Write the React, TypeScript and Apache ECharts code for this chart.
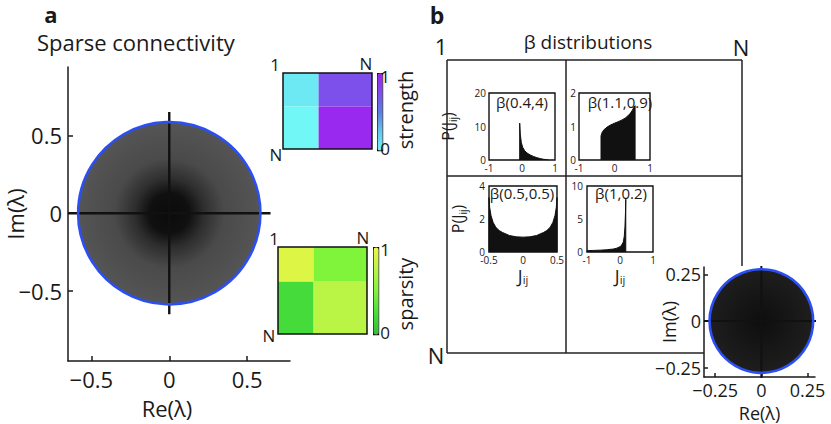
import React, { useEffect, useRef } from 'react';
import * as echarts from 'echarts';

const FONT = "'Open Sans', 'Noto Sans', sans-serif";
const INK = '#1a1a1a';

// ---------- panel a: eigenvalue spectrum (sparse connectivity) ----------
const eigDiskA = [[0, 0, 0.585]]; // centre re, centre im, radius
const crossA = [-0.65, 0.65];
const ticksA = [-0.5, 0, 0.5];

// block matrices [col0, col1, row0, row1, value]
const strengthBlocks = [
  [0, 0.4, 0, 0.44, 0.07],
  [0.4, 1, 0, 0.44, 0.74],
  [0, 0.4, 0.44, 1, 0.0],
  [0.4, 1, 0.44, 1, 0.95],
];
const sparsityBlocks = [
  [0, 0.4, 0, 0.4, 0.92],
  [0.4, 1, 0, 0.4, 0.5],
  [0, 0.4, 0.4, 1, 0.22],
  [0.4, 1, 0.4, 1, 0.76],
];
const strengthColors = ['#70f7f6', '#66c4ee', '#5c7de6', '#7e4eeb', '#a020f0'];
const sparsityColors = ['#35bd35', '#47df3b', '#80f43b', '#b8f546', '#eef543'];

// ---------- panel b: beta distributions ----------
const beta1X = [-0.07, -0.07, -0.05, -0.02, 0.02, 0.08, 0.15, 0.25, 0.35, 0.45, 0.55, 0.65, 0.75, 0.8, 0.8];
const beta1Y = [0, 11, 7.5, 5.2, 3.8, 2.8, 2.1, 1.5, 1.05, 0.7, 0.42, 0.22, 0.08, 0.03, 0];
const beta2X = [-0.38, -0.38, -0.35, -0.3, -0.2, -0.1, 0, 0.1, 0.2, 0.3, 0.38, 0.45, 0.5, 0.55, 0.58, 0.58];
const beta2Y = [0, 0.72, 0.82, 0.9, 0.99, 1.05, 1.1, 1.14, 1.19, 1.25, 1.32, 1.4, 1.48, 1.58, 1.62, 0];
const beta3X = [-0.5, -0.5, -0.49, -0.47, -0.44, -0.4, -0.35, -0.3, -0.2, -0.1, 0, 0.1, 0.2, 0.3, 0.35, 0.4, 0.44, 0.47, 0.49, 0.5, 0.5];
const beta3Y = [0, 3.3, 2.7, 2.2, 1.8, 1.5, 1.3, 1.18, 1.0, 0.92, 0.9, 0.92, 1.0, 1.18, 1.3, 1.5, 1.8, 2.2, 2.7, 3.3, 0];
const beta4X = [-1, -1, -0.8, -0.6, -0.4, -0.2, -0.1, 0, 0.05, 0.1, 0.13, 0.15, 0.165, 0.175, 0.175];
const beta4Y = [0, 0.2, 0.24, 0.28, 0.34, 0.45, 0.58, 0.8, 1.05, 1.5, 2.4, 3.8, 5.8, 8, 0];

// ---------- panel b: eigenvalue spectrum ----------
const eigDiskB = [[0, 0, 0.28]];
const crossB = [-0.31, 0.3];
const ticksB = [-0.25, 0, 0.25];

const zip = (xs: number[], ys: number[]) => xs.map((x, i) => [x, ys[i]]);
const minusFmt = (v: number) => (v < 0 ? '\u2212' + String(Math.abs(v)) : String(v));

const axisLineStyle = { color: INK, width: 1.5 };

function App() {
  const ref = useRef<HTMLDivElement>(null);

  useEffect(() => {
    if (!ref.current) return;
    document.body.style.margin = '0';
    const chart = echarts.init(ref.current, undefined, { renderer: 'svg' });

    const diskRender = (stops: any[]) => (params: any, api: any) => {
      const c = api.coord([api.value(0), api.value(1)]);
      const r = api.size([api.value(2), 0])[0];
      return {
        type: 'circle',
        shape: { cx: c[0], cy: c[1], r },
        style: { fill: new echarts.graphic.RadialGradient(0.5, 0.5, 0.5, stops) },
      };
    };
    const ringRender = (params: any, api: any) => {
      const c = api.coord([api.value(0), api.value(1)]);
      const r = api.size([api.value(2), 0])[0];
      return {
        type: 'circle',
        shape: { cx: c[0], cy: c[1], r },
        style: { fill: 'none', stroke: '#2b4ff2', lineWidth: 2.6 },
      };
    };
    const blockRender = (params: any, api: any) => {
      const a = api.coord([api.value(0), api.value(2)]);
      const b = api.coord([api.value(1), api.value(3)]);
      return {
        type: 'rect',
        shape: {
          x: Math.min(a[0], b[0]),
          y: Math.min(a[1], b[1]),
          width: Math.abs(b[0] - a[0]),
          height: Math.abs(b[1] - a[1]),
        },
        style: { fill: api.visual('color') },
      };
    };

    const hiddenAxis = (gridIndex: number, inverse = false) => ({
      type: 'value', gridIndex, min: 0, max: 1, inverse, show: false,
    });

    const insetX = (gridIndex: number, min: number, max: number, interval: number, name?: string) => ({
      type: 'value', gridIndex, min, max, interval,
      axisLine: { show: false },
      axisTick: { show: false },
      splitLine: { show: false },
      axisLabel: { fontSize: 10, color: INK, fontFamily: FONT, margin: 3, formatter: (v: number) => String(v) },
      name,
      nameLocation: 'middle',
      nameGap: 15,
      nameMoveOverlap: false,
      nameTextStyle: {
        color: INK,
        fontFamily: FONT,
        rich: {
          a: { fontSize: 18, fontFamily: FONT, color: INK, lineHeight: 18 },
          s: { fontSize: 11, fontFamily: FONT, color: INK, verticalAlign: 'bottom', lineHeight: 12 },
        },
      },
    });
    const insetY = (gridIndex: number, max: number, interval: number, name?: string, gap = 24, margin = 3) => ({
      type: 'value', gridIndex, min: 0, max, interval,
      axisLine: { show: false },
      axisTick: { show: false },
      splitLine: { show: false },
      axisLabel: { fontSize: 10, color: INK, fontFamily: FONT, margin },
      name,
      nameLocation: 'middle',
      nameGap: gap,
      nameMoveOverlap: false,
      nameTextStyle: {
        color: INK,
        fontFamily: FONT,
        rich: {
          a: { fontSize: 16, fontFamily: FONT, color: INK, lineHeight: 20 },
          s: { fontSize: 10, fontFamily: FONT, color: INK, verticalAlign: 'bottom', lineHeight: 13 },
        },
      },
    });

    const areaSeries = (idx: number, xs: number[], ys: number[]) => ({
      type: 'line', xAxisIndex: idx, yAxisIndex: idx,
      data: zip(xs, ys), symbol: 'none', silent: true,
      lineStyle: { color: '#111', width: 1 },
      areaStyle: { color: '#111', opacity: 1 },
    });

    const txt = (text: string, x: number, y: number, size: number, extra: any = {}, rot = 0) => ({
      type: 'text', x, y, rotation: rot, z: 50,
      style: {
        text, fontSize: size, fontFamily: FONT, fill: INK,
        align: 'center', textAlign: 'center', verticalAlign: 'middle', textVerticalAlign: 'middle',
        ...extra,
      },
    });
    const ln = (x1: number, y1: number, x2: number, y2: number) => ({
      type: 'line', z: 1, shape: { x1, y1, x2, y2 }, style: { stroke: '#222', lineWidth: 1.5 },
    });

    const option: any = {
      animation: false,
      backgroundColor: '#fff',
      grid: [
        { left: 68, top: 67, width: 222, height: 295 },
        { left: 283, top: 73, width: 89, height: 76, show: true, borderColor: '#111', borderWidth: 1.5, backgroundColor: 'transparent', z: 10 },
        { left: 278, top: 247, width: 89, height: 87, show: true, borderColor: '#111', borderWidth: 1.5, backgroundColor: 'transparent', z: 10 },
        { left: 489, top: 93, width: 66, height: 67, show: true, borderColor: '#111', borderWidth: 1.4, backgroundColor: 'transparent', z: 10 },
        { left: 579, top: 93, width: 71, height: 67, show: true, borderColor: '#111', borderWidth: 1.4, backgroundColor: 'transparent', z: 10 },
        { left: 489, top: 186, width: 68, height: 66, show: true, borderColor: '#111', borderWidth: 1.4, backgroundColor: 'transparent', z: 10 },
        { left: 587, top: 186, width: 66, height: 66, show: true, borderColor: '#111', borderWidth: 1.4, backgroundColor: 'transparent', z: 10 },
        { left: 704, top: 267, width: 111, height: 110 },
      ],
      xAxis: [
        {
          type: 'value', gridIndex: 0, min: -0.65, max: 0.775,
          axisLine: { onZero: false, lineStyle: axisLineStyle },
          axisTick: { inside: true, length: 5, customValues: ticksA, lineStyle: axisLineStyle },
          axisLabel: { customValues: ticksA, formatter: minusFmt, fontSize: 22, color: INK, fontFamily: FONT, margin: 7 },
          splitLine: { show: false },
          name: 'Re(λ)', nameLocation: 'middle', nameGap: 36, nameMoveOverlap: false,
          nameTextStyle: { fontSize: 22, color: INK, fontFamily: FONT, padding: [0, 24, 0, 0] },
        },
        hiddenAxis(1),
        hiddenAxis(2),
        insetX(3, -1, 1, 1),
        insetX(4, -1, 1, 1),
        insetX(5, -0.5, 0.5, 0.5, '{a|J}{s|ij}'),
        insetX(6, -1, 1, 1, '{a|J}{s|ij}'),
        {
          type: 'value', gridIndex: 7, min: -0.31, max: 0.29,
          axisLine: { onZero: false, lineStyle: axisLineStyle },
          axisTick: { inside: true, length: 4, customValues: ticksB, lineStyle: axisLineStyle },
          axisLabel: { customValues: ticksB, formatter: minusFmt, fontSize: 18, color: INK, fontFamily: FONT, margin: 4 },
          splitLine: { show: false },
          name: 'Re(λ)', nameLocation: 'middle', nameGap: 27, nameMoveOverlap: false,
          nameTextStyle: { fontSize: 18, color: INK, fontFamily: FONT },
        },
      ],
      yAxis: [
        {
          type: 'value', gridIndex: 0, min: -0.95, max: 0.94,
          axisLine: { onZero: false, lineStyle: axisLineStyle },
          axisTick: { inside: true, length: 5, customValues: ticksA, lineStyle: axisLineStyle },
          axisLabel: { customValues: ticksA, formatter: minusFmt, fontSize: 22, color: INK, fontFamily: FONT, margin: 6 },
          splitLine: { show: false },
          name: 'Im(λ)', nameLocation: 'middle', nameGap: 42, nameMoveOverlap: false,
          nameTextStyle: { fontSize: 22, color: INK, fontFamily: FONT },
        },
        hiddenAxis(1, true),
        hiddenAxis(2, true),
        insetY(3, 20, 10, '{a|P(J}{s|ij}{a|)}', 31),
        insetY(4, 2, 1),
        insetY(5, 4, 2, '{a|P(J}{s|ij}{a|)}', 21, 4),
        insetY(6, 10, 5, undefined, 24, 4),
        {
          type: 'value', gridIndex: 7, min: -0.3, max: 0.29,
          axisLine: { onZero: false, lineStyle: axisLineStyle },
          axisTick: { inside: true, length: 4, customValues: ticksB, lineStyle: axisLineStyle },
          axisLabel: { customValues: ticksB, formatter: minusFmt, fontSize: 18, color: INK, fontFamily: FONT, margin: 3 },
          splitLine: { show: false },
          name: 'Im(λ)', nameLocation: 'middle', nameGap: 26, nameMoveOverlap: false,
          nameTextStyle: { fontSize: 18, color: INK, fontFamily: FONT },
        },
      ],
      visualMap: [
        {
          type: 'continuous', seriesIndex: 4, dimension: 4, min: 0, max: 1,
          inRange: { color: strengthColors }, calculable: false, hoverLink: false,
          left: 377, top: 73, itemWidth: 5, itemHeight: 77, padding: 0,
          borderWidth: 1.2, borderColor: '#111',
        },
        {
          type: 'continuous', seriesIndex: 5, dimension: 4, min: 0, max: 1,
          inRange: { color: sparsityColors }, calculable: false, hoverLink: false,
          left: 373, top: 247, itemWidth: 5, itemHeight: 87, padding: 0,
          borderWidth: 1.2, borderColor: '#111',
        },
      ],
      series: [
        {
          type: 'custom', xAxisIndex: 0, yAxisIndex: 0, data: eigDiskA, silent: true,
          renderItem: diskRender([
            { offset: 0, color: '#0b0b0b' },
            { offset: 0.22, color: '#101010' },
            { offset: 0.38, color: '#2e2e2e' },
            { offset: 0.6, color: '#4a4a4a' },
            { offset: 1, color: '#555555' },
          ]),
        },
        { type: 'line', xAxisIndex: 0, yAxisIndex: 0, data: [[crossA[0], 0], [crossA[1], 0]], symbol: 'none', lineStyle: { color: '#111', width: 2.4 }, silent: true },
        { type: 'line', xAxisIndex: 0, yAxisIndex: 0, data: [[0, crossA[0]], [0, crossA[1]]], symbol: 'none', lineStyle: { color: '#111', width: 2.4 }, silent: true },
        { type: 'custom', xAxisIndex: 0, yAxisIndex: 0, data: eigDiskA, renderItem: ringRender, silent: true, z: 5 },
        { type: 'custom', xAxisIndex: 1, yAxisIndex: 1, data: strengthBlocks, renderItem: blockRender, silent: true },
        { type: 'custom', xAxisIndex: 2, yAxisIndex: 2, data: sparsityBlocks, renderItem: blockRender, silent: true },
        areaSeries(3, beta1X, beta1Y),
        areaSeries(4, beta2X, beta2Y),
        areaSeries(5, beta3X, beta3Y),
        areaSeries(6, beta4X, beta4Y),
        {
          type: 'custom', xAxisIndex: 7, yAxisIndex: 7, data: eigDiskB, silent: true,
          renderItem: diskRender([
            { offset: 0, color: '#0e0e0e' },
            { offset: 1, color: '#1e1e1e' },
          ]),
        },
        { type: 'line', xAxisIndex: 7, yAxisIndex: 7, data: [[crossB[0], 0], [crossB[1], 0]], symbol: 'none', lineStyle: { color: '#111', width: 2 }, silent: true },
        { type: 'line', xAxisIndex: 7, yAxisIndex: 7, data: [[0, crossB[0]], [0, crossB[1]]], symbol: 'none', lineStyle: { color: '#111', width: 2 }, silent: true },
        { type: 'custom', xAxisIndex: 7, yAxisIndex: 7, data: eigDiskB, renderItem: ringRender, silent: true, z: 5 },
      ],
      graphic: [
        // panel b block-matrix outline
        ln(447, 60, 742, 60),
        ln(447, 176, 742, 176),
        ln(447, 353, 704, 353),
        ln(447, 60, 447, 353),
        ln(566, 60, 566, 353),
        ln(742, 60, 742, 266),
        txt('a', 51, 14, 22, { fontWeight: 'bold' }),
        txt('Sparse connectivity', 37, 42, 22, { align: 'left', textAlign: 'left' }),
        txt('b', 437, 15, 23, { fontWeight: 'bold' }),
        txt('β distributions', 588, 42, 19),
        txt('1', 441, 46, 22),
        txt('N', 741, 47, 22),
        txt('N', 436, 355, 22),
        // strength heat map labels
        txt('1', 275, 64, 17),
        txt('N', 366, 63, 17),
        txt('N', 276, 154, 17),
        txt('1', 385, 76, 17),
        txt('0', 385, 148, 17),
        txt('strength', 405, 110, 20, {}, Math.PI / 2),
        // sparsity heat map labels
        txt('1', 274, 238, 17),
        txt('N', 363, 237, 17),
        txt('N', 269, 335, 17),
        txt('1', 385, 249, 17),
        txt('0', 385, 332, 17),
        txt('sparsity', 405, 294, 20, {}, Math.PI / 2),
        // inset titles
        txt('β(0.4,4)', 522, 102, 15),
        txt('β(1.1,0.9)', 620, 102, 15),
        txt('β(0.5,0.5)', 522, 193, 15),
        txt('β(1,0.2)', 621, 193, 15),
      ],
    };

    chart.setOption(option);
    return () => chart.dispose();
  }, []);

  return <div ref={ref} style={{ width: 831, height: 424 }} />;
}

export default App;
